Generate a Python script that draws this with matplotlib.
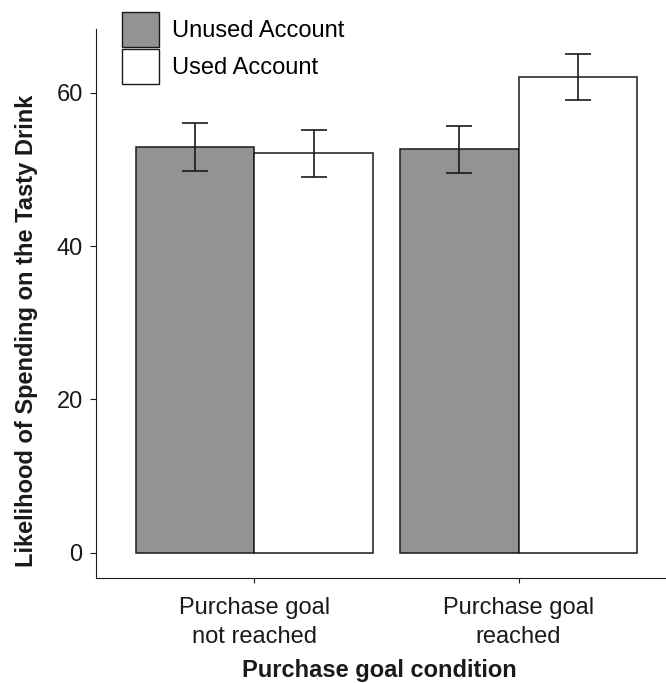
import matplotlib
matplotlib.use("Agg")
import matplotlib.pyplot as plt
from matplotlib.patches import Patch
import numpy as np

# data
conditions = ["Purchase goal\nnot reached", "Purchase goal\nreached"]
series = ["Unused Account", "Used Account"]
unused_mean = [52.9, 52.6]
unused_se = [3.1, 3.1]
used_mean = [52.1, 62.1]
used_se = [3.1, 3.0]
y_ticks = [0, 20, 40, 60]

plt.rcParams["font.family"] = ["Liberation Sans", "DejaVu Sans"]
ink = "#1a1a1a"
dark = "#939393"
FS = 17

W, H = 666, 683
fig = plt.figure(figsize=(W / 100, H / 100), dpi=100)
ax = fig.add_axes([96 / W, 1 - 578.3 / H, (677 - 96) / W, (578.3 - 29.3) / H])

x = np.arange(1, len(conditions) + 1)
bw = 0.45
ax.bar(x - bw / 2, unused_mean, bw, color=dark, edgecolor=ink, linewidth=1.1, zorder=2)
ax.bar(x + bw / 2, used_mean, bw, color="white", edgecolor=ink, linewidth=1.1, zorder=2)
ax.errorbar(x - bw / 2, unused_mean, yerr=unused_se, fmt="none", ecolor=ink,
            elinewidth=1.2, capsize=9.4, capthick=1.2, zorder=3)
ax.errorbar(x + bw / 2, used_mean, yerr=used_se, fmt="none", ecolor=ink,
            elinewidth=1.2, capsize=9.4, capthick=1.2, zorder=3)

ax.set_xlim(0.4, 2.6)
ax.set_ylim(-3.34, 68.27)
ax.set_xticks(x)
ax.set_xticklabels(conditions)
ax.set_yticks(y_ticks)
for s in ["top", "right"]:
    ax.spines[s].set_visible(False)
for s in ["left", "bottom"]:
    ax.spines[s].set_color(ink)
    ax.spines[s].set_linewidth(0.8)
ax.tick_params(axis="y", length=4.3, width=0.8, pad=5.3, labelsize=FS,
               color=ink, labelcolor=ink)
ax.tick_params(axis="x", length=3.6, width=0.8, pad=10, labelsize=FS,
               color=ink, labelcolor=ink)
for lbl in ax.get_xticklabels():
    lbl.set_linespacing(1.4)

fig.text(379 / W, (H - 676.7) / H, "Purchase goal condition", ha="center",
         va="baseline", fontsize=FS, fontweight="bold", color=ink)
fig.text(27 / W, 1 - 331 / H, "Likelihood of Spending on the Tasty Drink",
         rotation=90, ha="center", va="center", fontsize=17,
         fontweight="bold", color=ink)

handles = [Patch(facecolor=dark, edgecolor=ink, linewidth=1.0),
           Patch(facecolor="white", edgecolor=ink, linewidth=1.0)]
fs_px = FS * 100 / 72
hh = (35 / fs_px - 0.245) / 0.65
fig.legend(handles, series, loc="upper left",
           bbox_to_anchor=(122.3 / W, 1 - 11.7 / H), frameon=False,
           fontsize=FS, borderpad=0, borderaxespad=0,
           handlelength=37 / fs_px, handleheight=hh,
           labelspacing=2.6 / fs_px, handletextpad=0.55)

fig.savefig("out.png", dpi=100)
